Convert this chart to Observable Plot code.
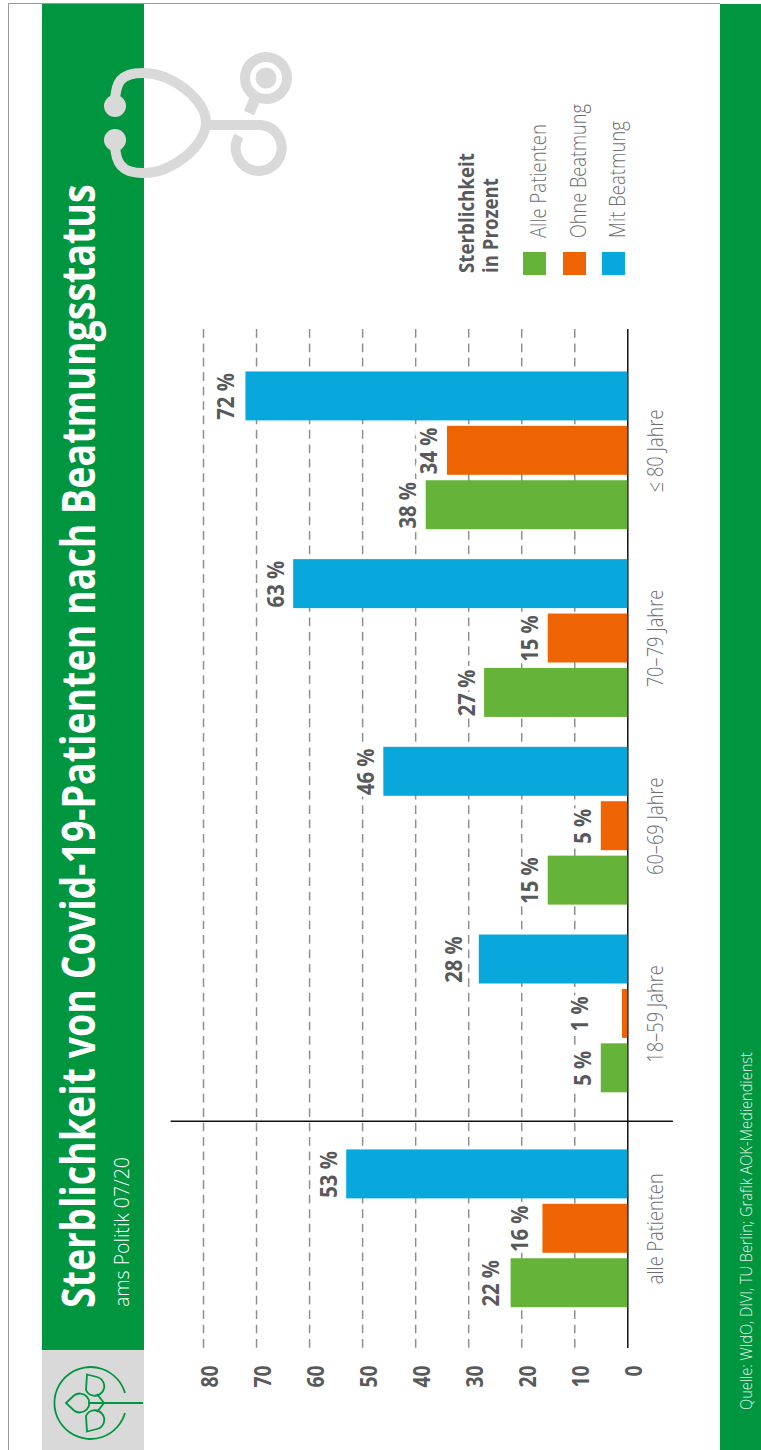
<!DOCTYPE html>
<html lang="de">
<head>
<meta charset="utf-8">
<title>Sterblichkeit von Covid-19-Patienten nach Beatmungsstatus</title>
<script src="https://cdn.jsdelivr.net/npm/d3@7"></script>
<script src="https://cdn.jsdelivr.net/npm/@observablehq/plot@0.6"></script>
<style>
  html, body { margin: 0; padding: 0; background: #fff; }
  svg { display: block; }
</style>
</head>
<body>
<div id="chart"></div>
<script>
const groups = ["alle Patienten", "18–59 Jahre", "60–69 Jahre", "70–79 Jahre", "≤ 80 Jahre"];
const allePatienten = [22, 5, 15, 27, 38];
const ohneBeatmung = [16, 1, 5, 15, 34];
const mitBeatmung = [53, 28, 46, 63, 72];
const seriesNames = ["Alle Patienten", "Ohne Beatmung", "Mit Beatmung"];
const seriesValues = [allePatienten, ohneBeatmung, mitBeatmung];
const seriesColors = ["#65b338", "#ee6402", "#09a8dc"];
const valueTicks = [0, 10, 20, 30, 40, 50, 60, 70, 80];
const gridTicks = [10, 20, 30, 40, 50, 60, 70, 80];

const titleText = "Sterblichkeit von Covid-19-Patienten nach Beatmungsstatus";
const subtitleText = "ams Politik 07/20";
const sourceText = "Quelle: WIdO, DIVI, TU Berlin; Grafik AOK-Mediendienst";
const legendTitle = ["Sterblichkeit", "in Prozent"];

const face = '"Open Sans", "Noto Sans", sans-serif';
const GREEN = "#009640", GREY = "#d9d9d9", INK = "#58595b", SOFT = "#6d6e71";

// Band layout along the category axis: one unit per bar, wider gaps between groups.
const barSize = 0.9;
const groupGap = 0.45;
const firstGroupGap = 0.95;
const groupStart = groups.map((_, i) => i === 0 ? 0 : 3 * i + firstGroupGap + groupGap * (i - 1));
const groupCenter = groupStart.map(s => s + 1.45);
const separator = groupStart[1] - firstGroupGap / 2 - 0.05;

// A few labels stand further off their bars, in axis units.
const labelLift = {"18–59 Jahre/Ohne Beatmung": 4.7, "18–59 Jahre/Mit Beatmung": 1.3, "alle Patienten/Ohne Beatmung": 1, "alle Patienten/Alle Patienten": 0.4, "≤ 80 Jahre/Mit Beatmung": 0.4};

const bars = groups.flatMap((group, g) =>
  seriesNames.map((series, s) => ({
    group, series,
    value: seriesValues[s][g],
    y1: groupStart[g] + s,
    y2: groupStart[g] + s + barSize
  }))
);

// Text turned to read upwards, as everything on this sheet does.
function upText(parent, str, x, y, size, opts = {}) {
  const t = parent.append("text")
    .attr("transform", `translate(${x},${y}) rotate(-90)`)
    .attr("text-anchor", "start")
    .attr("font-family", face)
    .attr("font-size", size)
    .attr("font-weight", opts.weight || 400)
    .attr("fill", opts.fill || SOFT)
    .attr("data-fit", opts.length || null)
    .text(str);
  return t;
}

// Sheet furniture: frame, green bands, logo, stethoscope, headline and legend.
function sheet() {
  const g = d3.create("svg:g");
  g.append("path").attr("d", "M8.5,1450V3.5H720").attr("fill", "none").attr("stroke", "#999").attr("stroke-width", 1);
  g.append("rect").attr("x", 42).attr("y", 4).attr("width", 102).attr("height", 1346).attr("fill", GREEN);
  g.append("rect").attr("x", 42).attr("y", 1350).attr("width", 102).attr("height", 100).attr("fill", GREY);
  g.append("rect").attr("x", 720).attr("y", 4).attr("width", 41).attr("height", 1446).attr("fill", GREEN);

  // Logo: open circle, stem and three leaves
  const logo = g.append("g").attr("fill", "none").attr("stroke", GREEN).attr("stroke-width", 1.8);
  logo.append("path").attr("d", "M125,1393A36,36 0 1 0 125,1413");
  logo.append("path").attr("d", "M88,1403H143");
  logo.append("path").attr("d", "M66,1403L74,1395.5A9.5,9.5 0 1 1 74,1410.5Z");
  logo.append("path").attr("d", "M87,1374.5L97,1377A9.5,9.5 0 1 1 86,1390Z");
  logo.append("path").attr("d", "M87,1431.5L97,1429A9.5,9.5 0 1 0 86,1416Z");
  logo.append("path").attr("d", "M97,1394L104,1403L97,1412");

  // Stethoscope
  const st = g.append("g").attr("fill", "none").attr("stroke", GREY).attr("stroke-width", 10);
  st.append("path").attr("d", "M115,100C116,84 119,73 143,73C172,73 206,100 206,122C206,146 172,173 143,173C119,173 116,160 115,146");
  st.append("path").attr("d", "M206,125H261A23,23 0 1 1 239,136");
  st.append("circle").attr("cx", 266).attr("cy", 78).attr("r", 21);
  st.append("path").attr("d", "M255,99L249,113").attr("stroke-width", 11);
  for (const [cx, cy, r] of [[115, 106, 11], [115, 140, 11], [266, 78, 10.5]]) {
    g.append("circle").attr("cx", cx).attr("cy", cy).attr("r", r).attr("fill", GREY);
  }

  upText(g, titleText, 95, 1308, 46, {weight: 700, fill: "#fff", length: 1124});
  upText(g, subtitleText, 129, 1307, 20, {weight: 300, fill: "#fff", length: 150});
  upText(g, sourceText, 752, 1410, 17, {weight: 300, fill: "#e3f2e6", length: 358});

  upText(g, legendTitle[0], 474, 273, 22, {weight: 700, fill: INK, length: 120});
  upText(g, legendTitle[1], 498, 273, 22, {weight: 700, fill: INK, length: 95});
  const swatchX = [523, 563, 602];
  const labelLength = [114, 134, 117];
  seriesNames.forEach((name, i) => {
    g.append("rect").attr("x", swatchX[i]).attr("y", 252).attr("width", 23).attr("height", 23).attr("fill", seriesColors[i]);
    upText(g, name, swatchX[i] + 23, 238, 22, {weight: 300, length: labelLength[i]});
  });
  return g.node();
}

const labelBase = {
  x: d => d.value + (labelLift[`${d.group}/${d.series}`] || 0),
  y: d => (d.y1 + d.y2) / 2,
  text: d => `${d.value} %`,
  rotate: -90,
  textAnchor: "middle",
  lineAnchor: "bottom",
  dx: -10,
  fontFamily: face,
  fontWeight: 700,
  fontSize: 23,
  className: "narrow-label"
};

const chart = Plot.plot({
  width: 761,
  height: 1450,
  marginLeft: 203,
  marginRight: 133.7,
  marginTop: 329,
  marginBottom: 102,
  style: {background: "#fff", overflow: "visible"},
  x: {domain: [0, 80], reverse: true, label: null},
  y: {domain: [-0.75, 17.98], label: null},
  color: {domain: seriesNames, range: seriesColors},
  marks: [
    sheet,
    Plot.ruleX(gridTicks, {stroke: "#8f8f8f", strokeWidth: 1.5, strokeDasharray: "8.7,5.73"}),
    Plot.ruleX([0], {stroke: "#111", strokeWidth: 1.5}),
    Plot.ruleY([separator], {x1: -8.6, x2: 86.1, stroke: "#111", strokeWidth: 1.5}),
    // White halo keeps the dashed grid clear of the value labels
    Plot.text(bars, {...labelBase, fill: "#fff", stroke: "#fff", strokeWidth: 10}),
    Plot.rect(bars, {x1: 0, x2: "value", y1: "y1", y2: "y2", fill: "series"}),
    Plot.text(bars, {...labelBase, fill: INK}),
    Plot.axisX({
      ticks: valueTicks,
      anchor: "bottom",
      tickSize: 0,
      tickPadding: 17,
      tickRotate: -90,
      textAnchor: "end",
      lineAnchor: "top",
      dx: -2,
      label: null,
      fontFamily: face,
      fontWeight: 700,
      fontSize: 23,
      fill: INK,
      className: "narrow-tick"
    }),
    Plot.axisY({
      ticks: groupCenter,
      tickFormat: v => groups[groupCenter.indexOf(v)],
      anchor: "right",
      tickSize: 0,
      tickPadding: 35,
      tickRotate: -90,
      textAnchor: "middle",
      lineAnchor: "bottom",
      label: null,
      fontFamily: face,
      fontWeight: 300,
      fontSize: 22,
      fill: SOFT,
      className: "narrow-group"
    })
  ]
});
document.getElementById("chart").append(chart);

// The sheet's typeface runs narrower than the installed ones, so squeeze each run horizontally.
function squeeze(t, factor) {
  const transform = t.getAttribute("transform") || "";
  t.setAttribute("transform", `${transform} scale(${factor},1)`);
}
function condense(selector, factor) {
  chart.querySelectorAll(`${selector} text`).forEach(t => squeeze(t, factor));
}
chart.querySelectorAll("text[data-fit]").forEach(t => {
  squeeze(t, +t.getAttribute("data-fit") / t.getComputedTextLength());
  t.removeAttribute("data-fit");
});
condense(".narrow-label", 0.88);
condense(".narrow-tick", 0.84);
condense(".narrow-group", 0.83);
</script>
</body>
</html>
